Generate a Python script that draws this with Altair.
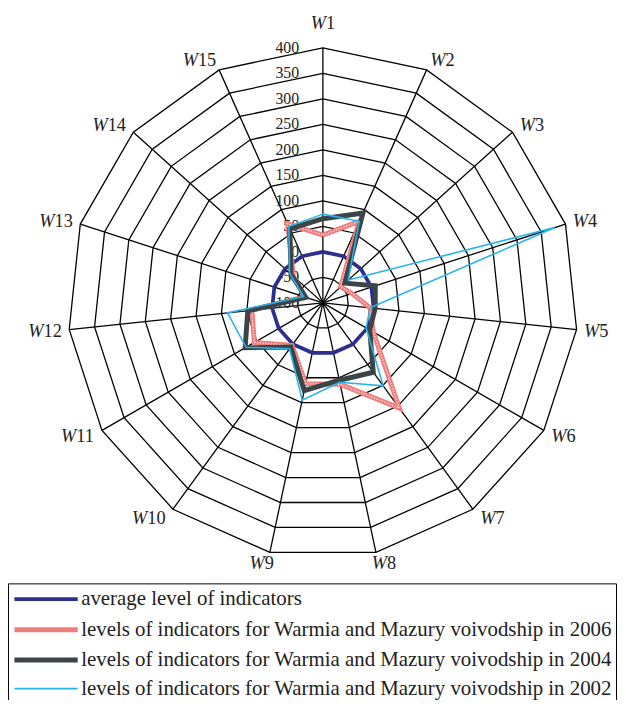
import altair as alt
import pandas as pd

categories = ["W1", "W2", "W3", "W4", "W5", "W6", "W7", "W8", "W9", "W10",
              "W11", "W12", "W13", "W14", "W15"]
series_names = [
    "average level of indicators",
    "levels of indicators for Warmia and Mazury voivodship in 2006",
    "levels of indicators for Warmia and Mazury voivodship in 2004",
    "levels of indicators for Warmia and Mazury voivodship in 2002",
]
avg_level = [0, 0, 0, 0, 0, 0, 0, 0, 0, 0, 0, 0, 0, 0, 0]
level_2006 = [33, 75, -53, -40, -7, 14, 155, 63, 62, 3, 55, 40, -62, -22, 70]
level_2004 = [65, 93, -42, 8, 3, 6, 68, 55, 76, 7, 76, 48, -65, -16, 59]
level_2002 = [74, 75, -33, 378, -7, -2, 101, 59, 95, 11, 74, 88, -60, -12, 64]
ring_levels = [-50, 0, 50, 100, 150, 200, 250, 300, 350, 400]
tick_values = [-100, -50, 0, 50, 100, 150, 200, 250, 300, 350, 400]

series_colors = ["#2B2F8E", "#F07C7C", "#3B4446", "#27B4E8"]
series_widths = [3.8, 5, 5, 1.6]

# ---- geometry of the drawing area ----
W, H = 617, 692
PX = 0.516            # pixels per data unit
K = 1 / PX
CX, CY = 318.5, 294.3  # centre of the radar in plot coordinates
xscale = alt.Scale(domain=[-CX * K, (W - CX) * K], nice=False, zero=False)
yscale = alt.Scale(domain=[-(H - CY) * K, CY * K], nice=False, zero=False)
N = len(categories)
BASE = -min(tick_values)     # value at the centre
RMAX = max(tick_values) + BASE

# ---- tables built from the arrays ----
all_series = [avg_level, level_2006, level_2004, level_2002]
srows = []
for name, vals in zip(series_names, all_series):
    for i in range(N + 1):
        srows.append({"series": name, "idx": i, "value": vals[i % N]})
series_df = pd.DataFrame(srows)

ring_df = pd.DataFrame([{"level": lv, "idx": i} for lv in ring_levels for i in range(N + 1)])
spoke_df = pd.DataFrame({"idx": list(range(N)), "cat": categories})
label_df = pd.DataFrame({"idx": list(range(N)),
                         "letter": ["W"] * N,
                         "num": [c[1:] for c in categories]})
tick_df = pd.DataFrame({"v": tick_values, "txt": [str(t) for t in tick_values]})

X = lambda f: alt.X(f, scale=xscale, axis=None)
Y = lambda f: alt.Y(f, scale=yscale, axis=None)
theta = f"datum.idx * 2 * PI / {N}"

rings = alt.Chart(ring_df).transform_calculate(
    th=theta, r=f"datum.level + {BASE}"
).transform_calculate(
    x="datum.r * sin(datum.th)", y="datum.r * cos(datum.th)"
).mark_line(color="black", strokeWidth=1.3).encode(
    x=X("x:Q"), y=Y("y:Q"), order="idx:Q", detail="level:N")

spokes = alt.Chart(spoke_df).transform_calculate(
    th=theta
).transform_calculate(
    x0="0", y0="0",
    x1=f"{RMAX} * sin(datum.th)", y1=f"{RMAX} * cos(datum.th)"
).mark_rule(color="black", strokeWidth=1.3).encode(
    x=X("x0:Q"), y=Y("y0:Q"), x2="x1:Q", y2="y1:Q")

ticks = alt.Chart(tick_df).transform_calculate(
    x=f"{-24 * K}", y=f"datum.v + {BASE}"
).mark_text(align="right", baseline="middle", font="Liberation Serif",
            fontSize=16, color="#222").encode(
    x=X("x:Q"), y=Y("y:Q"), text="txt:N")

# label placement outside each vertex
fs = 18.5
wW, wd, gap = 0.83 * fs, 0.5 * fs, 7.5
lab = alt.Chart(label_df).transform_calculate(
    th=theta, n="length(datum.num)"
).transform_calculate(
    s="sin(datum.th)", c="cos(datum.th)",
    half=f"({wW} + datum.n * {wd}) / 2 + {gap}"
).transform_calculate(
    f="clamp(2 * datum.s, -1, 1)",
    dyp="datum.c > 0.99 ? 25 : 11 * datum.c"
).transform_calculate(
    jx=f"{RMAX} * datum.s + ({K}) * (datum.f * datum.half + ({wW} - datum.n * {wd}) / 2)",
    jy=f"{RMAX} * datum.c + ({K}) * datum.dyp"
)
lab_w = lab.mark_text(align="right", baseline="middle", font="Liberation Serif",
                      fontSize=fs, fontStyle="italic", color="#222").encode(
    x=X("jx:Q"), y=Y("jy:Q"), text="letter:N")
lab_n = lab.mark_text(align="left", baseline="middle", font="Liberation Serif",
                      fontSize=fs, color="#222").encode(
    x=X("jx:Q"), y=Y("jy:Q"), text="num:N")

legend = alt.Legend(title=None, orient="none", legendX=0, legendY=578,
                    direction="vertical")
color = alt.Color("series:N", scale=alt.Scale(domain=series_names, range=series_colors),
                  legend=legend)
swidth = alt.StrokeWidth("series:N",
                         scale=alt.Scale(type="ordinal", domain=series_names, range=series_widths),
                         legend=legend)

sbase = alt.Chart(series_df).transform_calculate(
    th=theta, r=f"datum.value + {BASE}"
).transform_calculate(
    x="datum.r * sin(datum.th)", y="datum.r * cos(datum.th)"
)
layers = []
for name in series_names:
    layers.append(sbase.transform_filter(alt.datum.series == name).mark_line().encode(
        x=X("x:Q"), y=Y("y:Q"), order="idx:Q", color=color, strokeWidth=swidth))
    if name.endswith("2006"):
        layers.append(sbase.transform_filter(alt.datum.series == name).mark_line(
            color="white", strokeWidth=1.4, strokeDash=[1.2, 1.6], opacity=0.85).encode(
            x=X("x:Q"), y=Y("y:Q"), order="idx:Q"))

chart = alt.layer(rings, spokes, ticks, *layers, lab_w, lab_n).properties(
    width=W, height=H, padding=0, autosize=alt.AutoSizeParams(type="none"),
    background="white"
).configure_view(stroke=None).configure_legend(
    symbolType="M-3.2,0H3.2", symbolSize=400, symbolOffset=22,
    labelFont="Liberation Serif", labelFontSize=21.1, labelColor="#222",
    labelLimit=540, labelOffset=23, rowPadding=7.5,
    strokeColor="black", fillColor="white", padding=4)

chart.save("out.html", embed_options={"renderer": "svg", "actions": False})
